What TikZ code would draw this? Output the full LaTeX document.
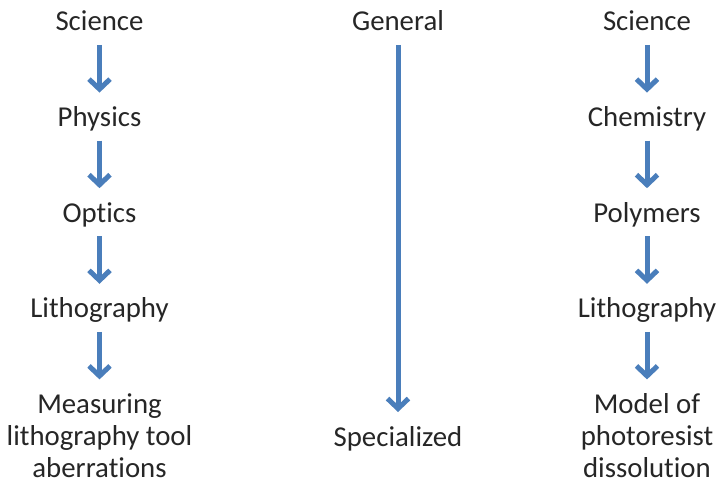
\documentclass[tikz,border=0pt]{standalone}
\usepackage{fontspec}
\setmainfont{Carlito}[Ligatures=NoCommon]
\usetikzlibrary{arrows.meta}

\definecolor{arrowblue}{HTML}{4A7EBB}
\definecolor{textgray}{HTML}{262626}

\begin{document}
\begin{tikzpicture}[x=1pt,y=-1pt,
  term/.style={font=\fontsize{28.8}{32}\selectfont, text=textgray,
    inner sep=0pt, outer sep=0pt, text height=34pt, text depth=14pt, anchor=base},
  leaf/.style={font=\fontsize{28.8}{32}\selectfont, text=textgray,
    inner sep=0pt, outer sep=0pt, align=center, anchor=north},
  flow/.style={draw=arrowblue, line width=5pt,
    -{Straight Barb[length=10pt,width=21pt]}}]

  % Fix the page size
  \useasboundingbox (0,0) rectangle (718,484);

  % Define the column positions and the row spacing
  \def\xL{99.5}
  \def\xM{398}
  \def\xR{647}
  \def\dy{95.6}

  % Left column
  \node[term] (sciL) at (\xL,31) {Science};
  \node[term] (phys) at (\xL,{31+\dy}) {Physics};
  \node[term] (opti) at (\xL,{31+2*\dy}) {Optics};
  \node[term] (lithL) at (\xL,{31+3*\dy}) {Lithography};
  \node[leaf] (meas) at (\xL,{31+4*\dy-34}) {\rule{0pt}{34pt}Measuring\\lithography tool\\aberrations};

  % Middle column
  \node[term] (gen) at (\xM,31) {General};
  \node[term] (spec) at (\xM,446) {Specialized};

  % Right column
  \node[term] (sciR) at (\xR,31) {Science};
  \node[term] (chem) at (\xR,{31+\dy}) {Chemistry};
  \node[term] (poly) at (\xR,{31+2*\dy}) {Polymers};
  \node[term] (lithR) at (\xR,{31+3*\dy}) {Lithography};
  \node[leaf] (model) at (\xR,{31+4*\dy-34}) {\rule{0pt}{34pt}Model of\\photoresist\\dissolution};

  % Draw the arrows
  \draw[flow] (sciL) -- (phys);
  \draw[flow] (phys) -- (opti);
  \draw[flow] (opti) -- (lithL);
  \draw[flow] (lithL) -- (meas);

  \draw[flow] (gen) -- (spec);

  \draw[flow] (sciR) -- (chem);
  \draw[flow] (chem) -- (poly);
  \draw[flow] (poly) -- (lithR);
  \draw[flow] (lithR) -- (model);

\end{tikzpicture}
\end{document}
